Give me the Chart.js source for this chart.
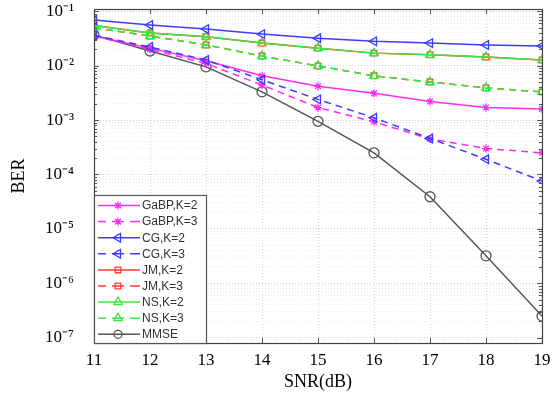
<!DOCTYPE html>
<html>
<head>
<meta charset="utf-8">
<script src="https://cdn.jsdelivr.net/npm/chart.js@4.4.0/dist/chart.umd.min.js"></script>
<style>
  html,body{margin:0;padding:0;background:#fff;}
  #wrap{position:relative;width:556px;height:393px;}
</style>
</head>
<body>
<div id="wrap"><canvas id="c" width="556" height="393"></canvas></div>
<script>
// ---- data ----
const snr = [11, 12, 13, 14, 15, 16, 17, 18, 19];
const gabpK2 = [0.035, 0.021, 0.0123, 0.0065, 0.0042, 0.0031, 0.0022, 0.0017, 0.0016];
const gabpK3 = [0.035, 0.020, 0.011, 0.0044, 0.0017, 0.00093, 0.00045, 0.00030, 0.00025];
const cgK2 = [0.069, 0.056, 0.047, 0.038, 0.032, 0.028, 0.026, 0.024, 0.023];
const cgK3 = [0.036, 0.022, 0.0127, 0.0055, 0.0024, 0.0011, 0.00046, 0.00019, 0.000076];
const jmK2 = [0.055, 0.040, 0.034, 0.026, 0.021, 0.017, 0.0158, 0.0144, 0.0127];
const jmK3 = [0.050, 0.035, 0.024, 0.015, 0.0099, 0.0065, 0.0050, 0.0039, 0.0033];
const nsK2 = [0.055, 0.040, 0.034, 0.026, 0.021, 0.017, 0.0158, 0.0144, 0.0127];
const nsK3 = [0.050, 0.035, 0.024, 0.015, 0.0099, 0.0065, 0.0050, 0.0039, 0.0033];
const mmse = [0.0366, 0.0186, 0.0095, 0.0033, 0.00095, 0.00025, 0.000039, 0.0000032, 0.00000025];
const yMajorTicks = [1e-7, 1e-6, 1e-5, 1e-4, 1e-3, 1e-2, 1e-1];
const yTickLabels = ['10⁻⁷', '10⁻⁶', '10⁻⁵', '10⁻⁴', '10⁻³', '10⁻²', '10⁻¹'];
const xTickLabels = ['11', '12', '13', '14', '15', '16', '17', '18', '19'];
const seriesNames = ['GaBP,K=2', 'GaBP,K=3', 'CG,K=2', 'CG,K=3', 'JM,K=2', 'JM,K=3', 'NS,K=2', 'NS,K=3', 'MMSE'];

const MAG = '#ff2cf0', BLU = '#3c3cff', RED = '#ff3a2a', GRN = '#3ce63c', GRY = '#555555';
const DASH = [7, 5];

function pts(arr){ return snr.map((x, i) => ({x: x, y: arr[i]})); }

function ds(label, data, color, dashed, style, rot, radius, order){
  return {
    label: label, data: pts(data), borderColor: color, backgroundColor: color,
    borderWidth: 1.5, borderDash: dashed ? DASH : [],
    pointStyle: style, pointRotation: rot, pointRadius: radius,
    pointBorderColor: color, pointBackgroundColor: style === 'star' ? color : 'rgba(0,0,0,0)',
    pointBorderWidth: 1.3, tension: 0, fill: false, order: order
  };
}

const datasets = [
  ds(seriesNames[8], mmse, GRY, false, 'circle', 0, 5, 9),
  ds(seriesNames[0], gabpK2, MAG, false, 'star', 0, 4, 4),
  ds(seriesNames[1], gabpK3, MAG, true, 'star', 0, 4, 3),
  ds(seriesNames[2], cgK2, BLU, false, 'triangle', -90, 5, 2),
  ds(seriesNames[3], cgK3, BLU, true, 'triangle', -90, 5, 1),
  ds(seriesNames[4], jmK2, RED, false, 'rect', 0, 4, 8),
  ds(seriesNames[5], jmK3, RED, true, 'rect', 0, 4, 7),
  ds(seriesNames[6], nsK2, GRN, false, 'triangle', 0, 5, 6),
  ds(seriesNames[7], nsK3, GRN, true, 'triangle', 0, 5, 5)
];

const legendItems = [
  {name: seriesNames[0], color: MAG, dashed: false, style: 'star', rot: 0, r: 4},
  {name: seriesNames[1], color: MAG, dashed: true, style: 'star', rot: 0, r: 4},
  {name: seriesNames[2], color: BLU, dashed: false, style: 'triangle', rot: -90, r: 5},
  {name: seriesNames[3], color: BLU, dashed: true, style: 'triangle', rot: -90, r: 5},
  {name: seriesNames[4], color: RED, dashed: false, style: 'rect', rot: 0, r: 4},
  {name: seriesNames[5], color: RED, dashed: true, style: 'rect', rot: 0, r: 4},
  {name: seriesNames[6], color: GRN, dashed: false, style: 'triangle', rot: 0, r: 5},
  {name: seriesNames[7], color: GRN, dashed: true, style: 'triangle', rot: 0, r: 5},
  {name: seriesNames[8], color: GRY, dashed: false, style: 'circle', rot: 0, r: 4}
];

function isMajor(v){
  const l = Math.log10(v);
  return Math.abs(l - Math.round(l)) < 1e-6;
}

const boxPlugin = {
  id: 'boxPlugin',
  afterDraw(chart){
    const ctx = chart.ctx, a = chart.chartArea;
    const ys = chart.scales.y, xs = chart.scales.x;
    ctx.save();
    // inward tick marks
    ctx.strokeStyle = '#555';
    ctx.lineWidth = 1;
    ctx.beginPath();
    ys.ticks.forEach(t => {
      const y = Math.round(ys.getPixelForValue(t.value)) + 0.5;
      if (y < a.top || y > a.bottom) return;
      const len = isMajor(t.value) ? 5 : 3;
      ctx.moveTo(a.left, y); ctx.lineTo(a.left + len, y);
      ctx.moveTo(a.right, y); ctx.lineTo(a.right - len, y);
    });
    xs.ticks.forEach(t => {
      const x = Math.round(xs.getPixelForValue(t.value)) + 0.5;
      ctx.moveTo(x, a.top); ctx.lineTo(x, a.top + 5);
      ctx.moveTo(x, a.bottom); ctx.lineTo(x, a.bottom - 5);
    });
    ctx.stroke();
    // plot box
    ctx.strokeStyle = '#444';
    ctx.lineWidth = 1.2;
    ctx.strokeRect(a.left + 0.5, a.top + 0.5, a.right - a.left, a.bottom - a.top);

    // legend
    const lx = a.left, lw = 112, lh = 148;
    const ly = a.bottom - lh;
    ctx.fillStyle = '#fff';
    ctx.fillRect(lx, ly, lw, lh);
    ctx.strokeStyle = '#555';
    ctx.lineWidth = 1.2;
    ctx.strokeRect(lx + 0.5, ly + 0.5, lw, lh);
    const rowH = 16.1;
    ctx.font = '12px "Liberation Sans", Arial, sans-serif';
    ctx.textBaseline = 'middle';
    ctx.textAlign = 'left';
    legendItems.forEach((it, i) => {
      const y = ly + 10.5 + i * rowH;
      ctx.strokeStyle = it.color;
      ctx.lineWidth = 1.5;
      ctx.beginPath();
      if (it.dashed) {
        ctx.moveTo(lx + 4, y); ctx.lineTo(lx + 12, y);
        ctx.moveTo(lx + 36, y); ctx.lineTo(lx + 46, y);
        ctx.moveTo(lx + 18, y); ctx.lineTo(lx + 30, y);
      } else {
        ctx.moveTo(lx + 4, y); ctx.lineTo(lx + 46, y);
      }
      ctx.stroke();
      ctx.fillStyle = it.style === 'star' ? it.color : 'rgba(0,0,0,0)';
      ctx.strokeStyle = it.color;
      ctx.lineWidth = 1.3;
      Chart.helpers.drawPoint(ctx, {pointStyle: it.style, rotation: it.rot, radius: it.r, borderWidth: 1.3}, lx + 24, y);
      ctx.fillStyle = '#333';
      ctx.fillText(it.name, lx + 48, y + 0.5);
    });
    ctx.restore();
  }
};

new Chart(document.getElementById('c'), {
  type: 'line',
  data: {datasets: datasets},
  plugins: [boxPlugin],
  options: {
    responsive: false,
    animation: false,
    devicePixelRatio: 1,
    layout: {padding: {top: 9, right: 14, left: 0, bottom: 0}},
    plugins: {legend: {display: false}, tooltip: {enabled: false}},
    scales: {
      x: {
        type: 'linear', min: 11, max: 19,
        afterBuildTicks(s){ s.ticks = snr.map(v => ({value: v})); },
        afterFit(s){ s.height = 50; s.paddingLeft = 0; s.paddingRight = 0; },
        ticks: {
          autoSkip: false, padding: 7, color: '#000',
          font: {family: '"Liberation Serif", "Times New Roman", serif', size: 17},
          callback: (v, i) => xTickLabels[i]
        },
        grid: {color: '#d6d6d6', lineWidth: 1, drawTicks: false},
        border: {display: false, dash: [1, 2]},
        title: {display: true, text: 'SNR(dB)', color: '#000', padding: {top: 0, bottom: 0},
          font: {family: '"Liberation Serif", "Times New Roman", serif', size: 18}}
      },
      y: {
        type: 'logarithmic', min: 8e-8, max: 0.11,
        afterBuildTicks(s){
          const t = [];
          yMajorTicks.forEach(m => {
            for (let k = 1; k <= 9; k++) {
              const v = m * k;
              if (v >= 8e-8 && v <= 0.11) t.push({value: v, major: k === 1});
            }
          });
          t.push({value: 8e-8, major: false});
          t.sort((a, b) => a.value - b.value);
          s.ticks = t;
        },
        afterFit(s){ s.width = 94; s.paddingTop = 0; s.paddingBottom = 0; },
        ticks: {
          autoSkip: false, padding: 20, color: '#000',
          font: {family: '"Liberation Serif", "Times New Roman", serif', size: 17},
          callback: (v) => {
            if (!isMajor(v)) return '';
            const idx = yMajorTicks.findIndex(m => Math.abs(Math.log10(m) - Math.log10(v)) < 1e-6);
            return idx >= 0 ? yTickLabels[idx] : '';
          }
        },
        grid: {
          drawTicks: false, lineWidth: 1,
          color: (c) => (c.tick && isMajor(c.tick.value)) ? '#d0d0d0' : '#ececec'
        },
        border: {display: false, dash: [1, 2]},
        title: {display: true, text: 'BER', color: '#000', padding: {top: 8, bottom: 0},
          font: {family: '"Liberation Serif", "Times New Roman", serif', size: 18}}
      }
    }
  }
});
</script>
</body>
</html>
